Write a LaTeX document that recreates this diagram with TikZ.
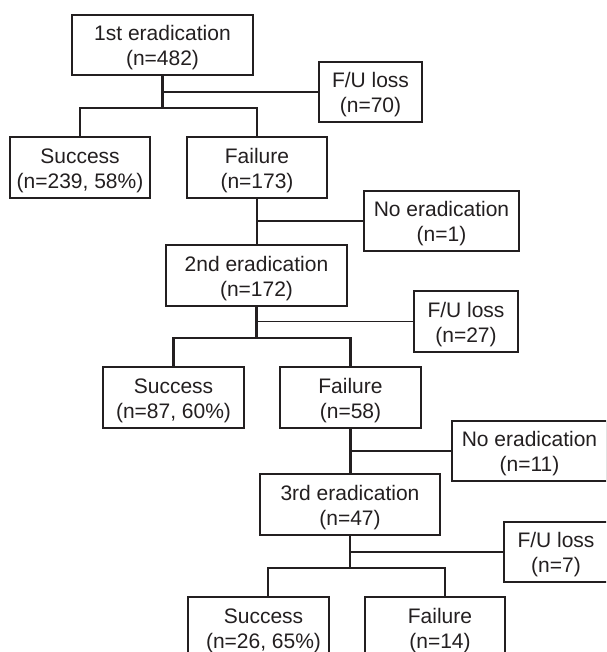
\documentclass[tikz,border=0pt]{standalone}
\usepackage{fontspec}
\setmainfont{Liberation Sans}
\definecolor{ink}{HTML}{231F20}
\newcommand\upstrutA{\rule{0pt}{21pt}}
\begin{document}
\begin{tikzpicture}[x=1pt,y=-1pt,
  box/.style={draw=ink,line width=1.3pt,fill=white,inner sep=0pt,align=center,
    font=\fontsize{21}{25}\selectfont,text=ink},
  thinln/.style={draw=ink,line width=1.2pt},
  thickln/.style={draw=ink,line width=2.6pt,line cap=rect}]
\clip (0,0) rectangle (606,652);
\fill[white] (0,0) rectangle (606,652);
% boxes
\node[box,minimum width=181pt,minimum height=60pt] (b1) at (162.5,45) {\upstrutA 1st eradication\\(n=482)};
\node[box,minimum width=103pt,minimum height=60pt] (fu1) at (370.5,92) {\upstrutA F/U loss\\(n=70)};
\node[box,minimum width=140pt,minimum height=61pt] (s1) at (80,167.5) {\upstrutA Success\\(n=239, 58\%)};
\node[box,minimum width=140pt,minimum height=61pt] (f1) at (257,167.5) {\upstrutA Failure\\(n=173)};
\node[box,minimum width=155pt,minimum height=60pt] (ne1) at (441.5,221) {\upstrutA No eradication\\(n=1)};
\node[box,minimum width=181pt,minimum height=61pt] (b2) at (256.5,275.5) {\upstrutA 2nd eradication\\(n=172)};
\node[box,minimum width=104pt,minimum height=61pt] (fu2) at (466,321.5) {\upstrutA F/U loss\\(n=27)};
\node[box,minimum width=141pt,minimum height=61pt] (s2) at (173.5,397.5) {\upstrutA Success\\(n=87, 60\%)};
\node[box,minimum width=141pt,minimum height=61pt] (f2) at (350.5,397.5) {\upstrutA Failure\\(n=58)};
\node[box,minimum width=155pt,minimum height=60pt] (ne2) at (529.5,451) {\upstrutA No eradication\\(n=11)};
\node[box,minimum width=180pt,minimum height=61pt] (b3) at (350,504.5) {\upstrutA 3rd eradication\\(n=47)};
\node[box,minimum width=104pt,minimum height=60pt] (fu3) at (556,552) {\upstrutA F/U loss\\(n=7)};
\node[box,minimum width=141pt,minimum height=61pt] (s3) at (258.5,627.5) {\upstrutA\hspace*{10pt}Success\\\hspace*{10pt}(n=26, 65\%)};
\node[box,minimum width=140pt,minimum height=61pt] (f3) at (435,627.5) {\upstrutA\hspace*{10pt}Failure\\\hspace*{10pt}(n=14)};
% junctions
\coordinate (j1) at (162.5,108);
\coordinate (j2) at (257,338);
\coordinate (j3) at (350,568);
\coordinate (s3t) at (268,597);
\coordinate (f3t) at (445,597);
% level 1
\draw[thinln] (fu1.west) -- (fu1.west -| b1.south);
\draw[thickln] (b1.south) -- (j1);
\draw[thickln,line cap=butt] (s1.north) |- (j1) -| (f1.north);
\draw[thinln] (ne1.west) -- (ne1.west -| f1.south);
\draw[thickln,line cap=butt] (f1.south) -- (f1.south |- b2.north);
% level 2
\draw[thinln] (fu2.west) -- (fu2.west -| b2.south);
\draw[thickln,line cap=butt] (b2.south) -- (b2.south |- j2);
\draw[thickln,line cap=butt] (s2.north) |- (j2) -| (f2.north);
\draw[thinln] (ne2.west) -- (ne2.west -| f2.south);
\draw[thickln,line cap=butt] (f2.south) -- (f2.south |- b3.north);
% level 3
\draw[thinln] (fu3.west) -- (fu3.west -| b3.south);
\draw[thickln,line cap=butt] (b3.south) -- (j3);
\draw[thickln,line cap=butt] (s3t) |- (j3) -| (f3t);
\end{tikzpicture}
\end{document}
